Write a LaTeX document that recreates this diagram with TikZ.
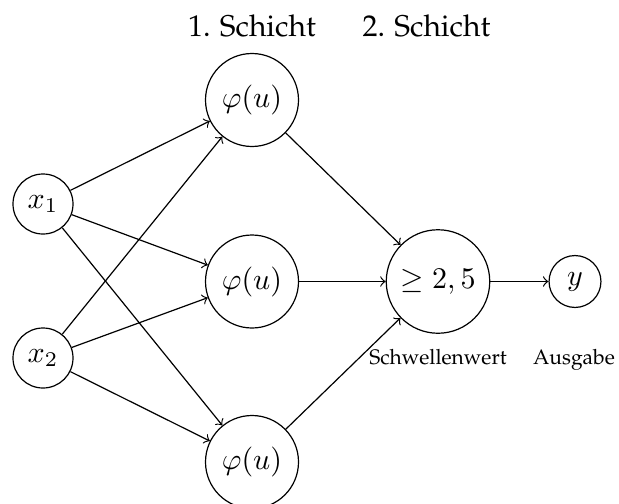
\documentclass[tikz,border=0pt]{standalone}
\usepackage[T1]{fontenc}
\usepackage{palatino}
\begin{document}
\begin{tikzpicture}[x=0.33333pt,y=-0.33333pt,
  neuron/.style={draw,circle,inner sep=0pt,line width=0.4pt},
  small/.style={neuron,minimum size=20pt},
  big/.style={neuron,minimum size=31pt},
  thresh/.style={neuron,minimum size=34.5pt},
  outn/.style={neuron,minimum size=17.3pt},
  head/.style={anchor=base,inner sep=0pt},
  lab/.style={anchor=base,inner sep=0pt,font=\scriptsize},
  conn/.style={->,line width=0.4pt}]
\useasboundingbox (0,0) rectangle (619,504);
\node[small] (x1) at (43,204) {$x_1$};
\node[small] (x2) at (43,358) {$x_2$};
\node[big] (p1) at (252,100) {$\varphi(u)$};
\node[big] (p2) at (252,281.5) {$\varphi(u)$};
\node[big] (p3) at (252,462) {$\varphi(u)$};
\node[thresh] (t) at (438,281.5) {$\geq 2,5$};
\node[outn] (y) at (575,281.5) {$y$};
\node[head] (h1) at (252,36.7) {1. Schicht};
\node[head] (h2) at (426.5,36.7) {2. Schicht};
\node[lab] (l1) at (438,364) {Schwellenwert};
\node[lab] (l2) at (574,364) {Ausgabe};
\foreach \s in {x1,x2}{
  \foreach \d in {p1,p2,p3}{
    \draw[conn] (\s) -- (\d);
  }
}
\foreach \s in {p1,p2,p3}{
  \draw[conn] (\s) -- (t);
}
\draw[conn] (t) -- (y);
\end{tikzpicture}
\end{document}
